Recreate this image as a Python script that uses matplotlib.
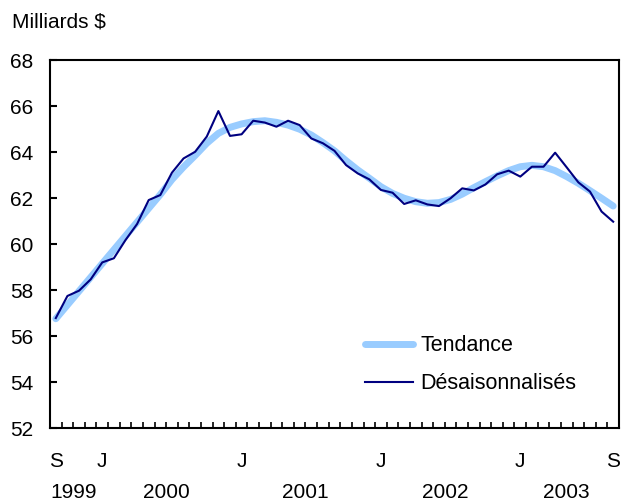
import numpy as np
import matplotlib
matplotlib.use('Agg')
import matplotlib.pyplot as plt

plt.rcParams['font.family'] = ['Liberation Sans', 'DejaVu Sans']

# monthly, Sep 1999 .. Sep 2003
desais = [56.78, 57.74, 57.97, 58.46, 59.20, 59.38, 60.17, 60.87, 61.91, 62.13,
          63.10, 63.72, 64.01, 64.67, 65.78, 64.70, 64.77, 65.36, 65.28, 65.10,
          65.36, 65.17, 64.59, 64.38, 64.05, 63.43, 63.07, 62.81, 62.35, 62.23,
          61.74, 61.90, 61.72, 61.65, 61.99, 62.42, 62.33, 62.59, 63.03, 63.19,
          62.93, 63.36, 63.36, 63.97, 63.33, 62.68, 62.28, 61.41, 60.97]
tendance = [56.75, 57.35, 57.95, 58.55, 59.15, 59.75, 60.35, 60.95, 61.55, 62.15,
            62.80, 63.35, 63.85, 64.38, 64.81, 65.07, 65.22, 65.32, 65.36, 65.29,
            65.17, 64.99, 64.74, 64.41, 64.05, 63.62, 63.22, 62.86, 62.49, 62.20,
            61.99, 61.84, 61.77, 61.80, 61.94, 62.17, 62.45, 62.71, 62.96, 63.19,
            63.36, 63.42, 63.36, 63.19, 62.93, 62.64, 62.32, 61.99, 61.65]
mois_pos = [0, 4, 16, 28, 40, 48]
mois_lab = ['S', 'J', 'J', 'J', 'J', 'S']
annees = ['1999', '2000', '2001', '2002', '2003']
annee_pos = [1.5, 9.5, 21.5, 33.5, 44]

x = np.arange(len(desais))

fig = plt.figure(figsize=(6.26, 5.04), dpi=100)
ax = fig.add_axes([50/626, 1-428/504, 569/626, 368/504])

ax.plot(x, tendance, color='#99ccff', lw=5, solid_capstyle='round', label='Tendance')
ax.plot(x, desais, color='#000080', lw=1.5, label='Désaisonnalisés')

ax.set_xlim(-0.5, 48.5)
ax.set_ylim(52, 68)
ax.set_yticks(np.arange(52, 69, 2))
ax.set_xticks(mois_pos)
ax.set_xticklabels(mois_lab)
ax.set_xticks(np.arange(0.5, 48, 1), minor=True)
ax.tick_params(axis='x', which='major', length=0, pad=17, labelsize=15)
ax.tick_params(axis='x', which='minor', direction='in', length=4, width=1.2)
ax.tick_params(axis='y', direction='in', length=5, width=1.5, pad=12, labelsize=15)
for s in ax.spines.values():
    s.set_linewidth(1.5)

for lab, p in zip(annees, annee_pos):
    ax.text(p, -0.175, lab, transform=ax.get_xaxis_transform(), ha='center', va='center', fontsize=15)

fig.text(12/626, 1-22/504, 'Milliards $', fontsize=15, va='center', ha='left')

ax.legend(loc='upper left', bbox_to_anchor=(0.52, 0.305), frameon=False, fontsize=15.5,
          handlelength=2.2, handletextpad=0.35, labelspacing=0.8)

fig.savefig('out.png', dpi=100)
